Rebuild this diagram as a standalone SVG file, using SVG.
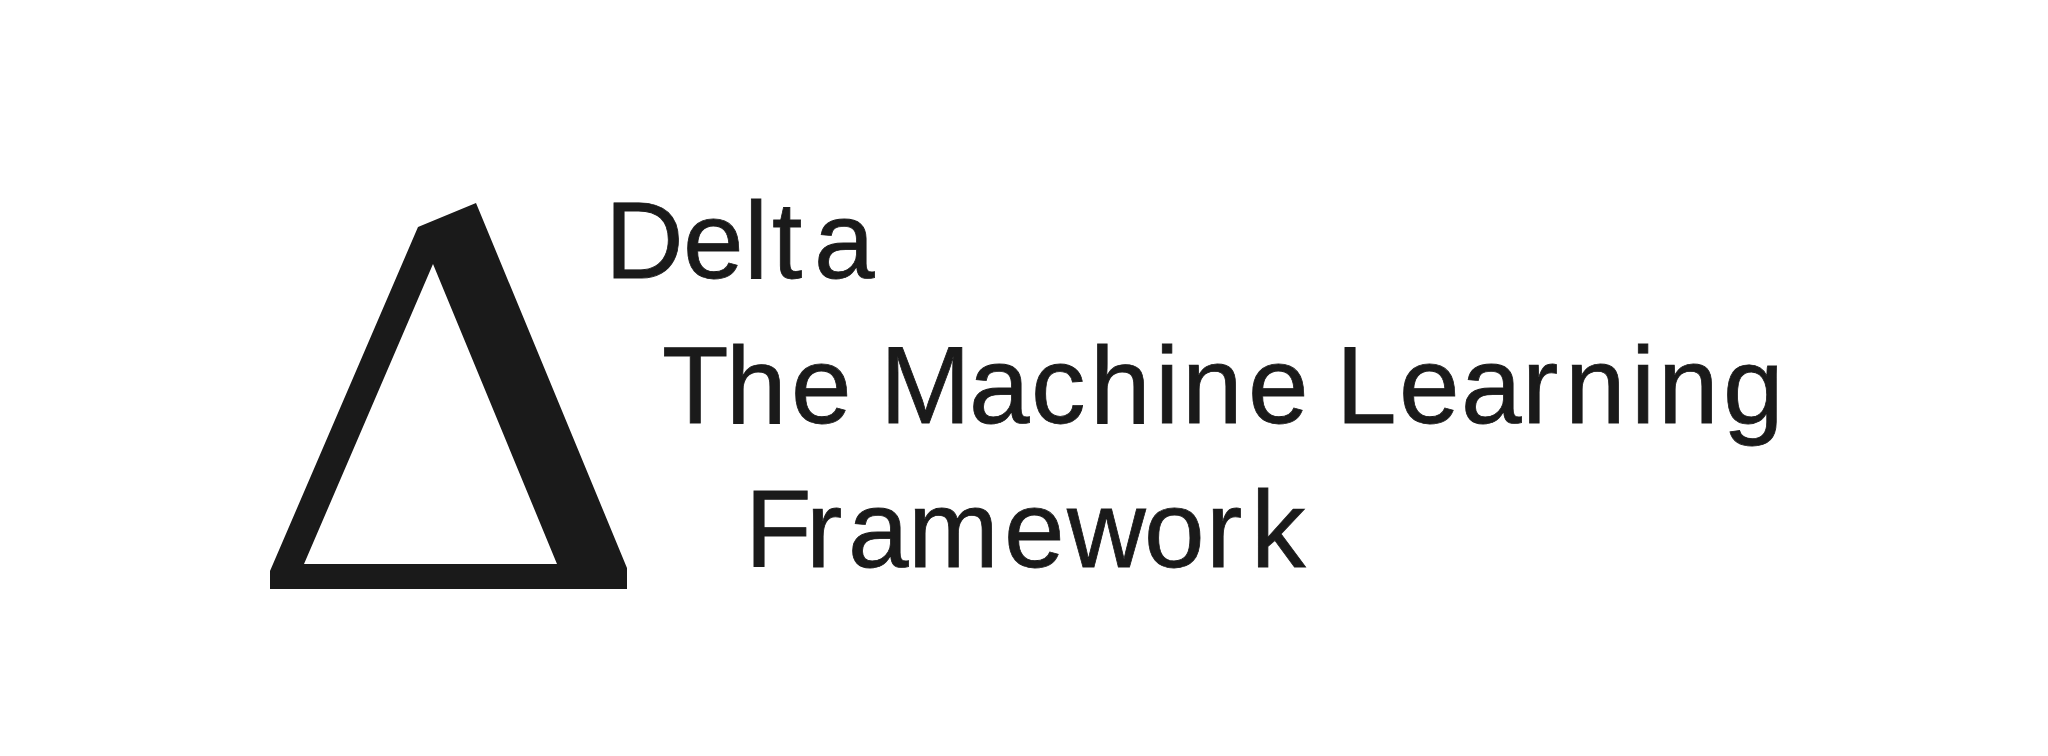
<svg xmlns="http://www.w3.org/2000/svg" width="2048" height="756" viewBox="0 0 2048 756">
<style>
.t{font-family:"Liberation Sans",Arial,sans-serif;font-size:109px;fill:#1a1a1a;stroke:#1a1a1a;stroke-width:.8px}
</style>
<rect width="2048" height="756" fill="#fff"/>
<g id="logo-mark"><path fill="#1a1a1a" fill-rule="evenodd" d="M270 571L418 227L476 203L627 568V589H270ZM433 264L304 564H557Z"/></g>
<g id="title">
<text class="t" y="278" x="605 683 744 772 814">Delta</text>
<text class="t" y="423" x="662 726 791 850 880 969 1031 1090 1155 1182 1248 1310 1336 1399 1461 1522 1565 1631 1658 1723">The Machine Learning</text>
<text class="t" y="567" x="745 806 848 908 1004 1067 1144 1206 1251">Framework</text>
</g>
</svg>
